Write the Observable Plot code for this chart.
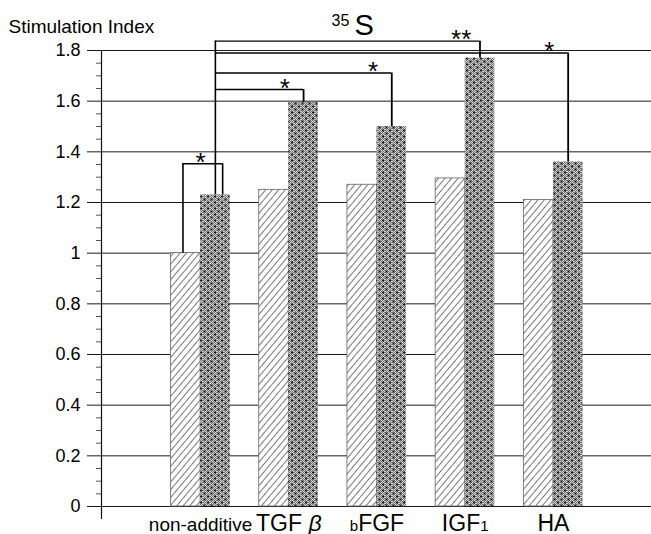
<!DOCTYPE html>
<html>
<head>
<meta charset="utf-8">
<script src="https://cdn.jsdelivr.net/npm/d3@7"></script>
<script src="https://cdn.jsdelivr.net/npm/@observablehq/plot@0.6"></script>
<style>
  html, body { margin: 0; padding: 0; background: #fff; }
  svg { display: block; }
</style>
</head>
<body>
<div id="chart"></div>
<script>
// ---- data ----
const categories = ["non-additive", "TGF β", "bFGF", "IGF1", "HA"];
const hatchedValues = [1.00, 1.25, 1.27, 1.295, 1.21];
const dottedValues = [1.23, 1.595, 1.50, 1.77, 1.36];
const yTicks = [0, 0.2, 0.4, 0.6, 0.8, 1, 1.2, 1.4, 1.6, 1.8];
const yTickLabels = ["0", "0.2", "0.4", "0.6", "0.8", "1", "1.2", "1.4", "1.6", "1.8"];
// significance brackets (all drawn from the non-additive dotted bar)
const compTargets = ["TGF β", "bFGF", "IGF1", "HA"];
const compLevels = [1.646, 1.711, 1.837, 1.79];
const compMarks = ["*", "*", "**", "*"];
const baseBracketLevel = 1.353;
const baseBracketMark = "*";
const yTitle = "Stimulation Index";
const titleSup = "35";
const titleMain = "S";

// ---- derived tables ----
const rows = categories.map((c, i) => ({c, i, h: hatchedValues[i], d: dottedValues[i]}));
const comps = compTargets.map((t, k) => {
  const i = categories.indexOf(t);
  return {i, level: compLevels[k], mark: compMarks[k], value: dottedValues[i]};
});
const topLevel = d3.max(compLevels);
const yMinor = d3.range(0, 37).map(k => +(k * 0.05).toFixed(2)).filter(v => !yTicks.includes(v));

const half = 0.335;          // width of one bar in category units
const q = half / 2;          // offset from category centre to bar centre
const baseLeftX = -0.2, baseRightX = 0.25;

const font = "'Liberation Sans', Arial, Helvetica, sans-serif";

const plot = Plot.plot({
  width: 651,
  height: 534,
  marginTop: 50,
  marginLeft: 101,
  marginRight: 0,
  marginBottom: 16,
  x: {domain: [-0.5, 4.5], range: [156, 597], label: null, axis: null},
  y: {domain: [0, 1.8], range: [506, 50], label: null},
  style: {fontFamily: font, background: "white", color: "black", overflow: "visible"},
  marks: [
    Plot.ruleY(yTicks, {stroke: "#1a1a1a", strokeWidth: 1}),
    Plot.axisY({ticks: yMinor, tickSize: 5, tickFormat: () => "", stroke: "#555", label: null}),
    Plot.axisY({
      ticks: yTicks, tickSize: 14, tickPadding: 7,
      tickFormat: d => yTickLabels[yTicks.indexOf(d)],
      fontSize: 18, label: null, stroke: "#1a1a1a"
    }),
    Plot.frame({anchor: "left", stroke: "#111", strokeWidth: 1.2}),
    Plot.rectY(rows, {x1: d => d.i - half, x2: d => d.i, y: "h",
      fill: "url(#hatch)", stroke: "#666", strokeWidth: 0.8}),
    Plot.rectY(rows, {x1: d => d.i, x2: d => d.i + half, y: "d", fill: "url(#dots)"}),
    // main vertical from non-additive dotted bar
    Plot.ruleX([dottedValues[0]], {x: () => q, y1: d => d, y2: () => topLevel, stroke: "black", strokeWidth: 1.6}),
    Plot.ruleY(comps, {y: "level", x1: () => q, x2: d => d.i + q, stroke: "black", strokeWidth: 1.4}),
    Plot.ruleX(comps, {x: d => d.i + q, y1: "value", y2: "level", stroke: "black", strokeWidth: 1.8}),
    Plot.text(comps, {x: "i", y: "level", text: "mark", dx: -4, dy: 7, lineAnchor: "bottom",
      fontSize: 26, fill: "black"}),
    // non-additive bracket
    Plot.ruleX([hatchedValues[0]], {x: () => baseLeftX, y1: d => d, y2: () => baseBracketLevel, stroke: "black", strokeWidth: 1.6}),
    Plot.ruleX([dottedValues[0]], {x: () => baseRightX, y1: d => d, y2: () => baseBracketLevel, stroke: "black", strokeWidth: 1.6}),
    Plot.ruleY([baseBracketLevel], {y: d => d, x1: () => baseLeftX, x2: () => baseRightX, stroke: "black", strokeWidth: 1.4}),
    Plot.text([baseBracketMark], {x: () => 0, y: () => baseBracketLevel, text: d => d, dy: 7,
      lineAnchor: "bottom", fontSize: 26, fill: "black"}),
    // category labels
    Plot.text(rows, {x: "i", text: "c", frameAnchor: "bottom", lineAnchor: "bottom", dy: 12,
      fontSize: 23, fill: "black", ariaLabel: () => "x-labels"}),
    // titles
    Plot.text([yTitle], {frameAnchor: "top-left", text: d => d, textAnchor: "start", lineAnchor: "bottom",
      dx: -93, dy: -18, fontSize: 19, fill: "black"}),
    Plot.text([titleSup], {frameAnchor: "top-left", text: d => d, textAnchor: "start", lineAnchor: "bottom",
      dx: 230, dy: -25, fontSize: 16, fill: "black"}),
    Plot.text([titleMain], {frameAnchor: "top-left", text: d => d, textAnchor: "start", lineAnchor: "bottom",
      dx: 253, dy: -16, fontSize: 29, fill: "black"})
  ]
});

// ---- patterns ----
const svg = d3.select(plot);
const defs = svg.insert("defs", ":first-child");
const hatch = defs.append("pattern").attr("id", "hatch")
  .attr("patternUnits", "userSpaceOnUse").attr("width", 5).attr("height", 10)
  .attr("patternTransform", "rotate(40)");
hatch.append("rect").attr("width", 5).attr("height", 10).attr("fill", "white");
hatch.append("line").attr("x1", 0.5).attr("x2", 0.5).attr("y1", 0).attr("y2", 10)
  .attr("stroke", "#555").attr("stroke-width", 0.8);

const half2 = defs.append("pattern").attr("id", "halftone")
  .attr("patternUnits", "userSpaceOnUse").attr("width", 2).attr("height", 2);
half2.append("rect").attr("width", 2).attr("height", 2).attr("fill", "#d2d2d2");
half2.append("rect").attr("width", 1).attr("height", 1).attr("fill", "#737373");
half2.append("rect").attr("x", 1).attr("y", 1).attr("width", 1).attr("height", 1).attr("fill", "#737373");

const dots = defs.append("pattern").attr("id", "dots")
  .attr("patternUnits", "userSpaceOnUse").attr("width", 7).attr("height", 6);
dots.append("rect").attr("width", 7).attr("height", 6).attr("fill", "url(#halftone)");
dots.append("rect").attr("x", 0.6).attr("y", 0.6).attr("width", 1.8).attr("height", 1.8).attr("fill", "#000");
dots.append("rect").attr("x", 4.1).attr("y", 3.6).attr("width", 1.8).attr("height", 1.8).attr("fill", "#000");

// ---- rich category labels ----
svg.selectAll('text[aria-label="x-labels"], g[aria-label="x-labels"] text').each(function () {
  const s = this.textContent;
  const t = d3.select(this);
  t.text("");
  if (s === "non-additive") {
    t.append("tspan").style("font-size", "19px").text(s);
    return;
  }
  const m = s.match(/^([a-z]?)([^0-9]*?)(\d*)$/);
  if (m[1]) t.append("tspan").style("font-size", "15px").text(m[1]);
  const main = m[2];
  const greek = main.match(/^(.*?)([α-ω])$/);
  if (greek) {
    t.append("tspan").text(greek[1]);
    t.append("tspan").style("font-style", "italic").text(greek[2]);
  } else {
    t.append("tspan").text(main);
  }
  if (m[3]) t.append("tspan").style("font-size", "15px").text(m[3]);
});

document.getElementById("chart").appendChild(plot);
</script>
</body>
</html>
